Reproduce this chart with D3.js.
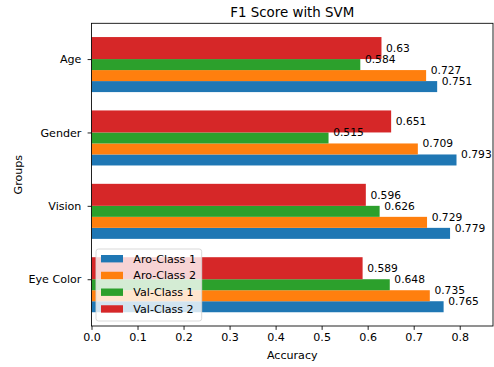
<!DOCTYPE html>
<html>
<head>
<meta charset="utf-8">
<script src="https://cdn.jsdelivr.net/npm/d3@7"></script>
<style>
  html, body { margin: 0; padding: 0; background: #fff; }
  svg { display: block; font-family: "DejaVu Sans", sans-serif; }
</style>
</head>
<body>
<svg id="chart" width="494" height="367"></svg>
<script>
const groups = ["Age", "Gender", "Vision", "Eye Color"];
const seriesNames = ["Aro-Class 1", "Aro-Class 2", "Val-Class 1", "Val-Class 2"];
const aroClass1 = [0.751, 0.793, 0.779, 0.765];
const aroClass2 = [0.727, 0.709, 0.729, 0.735];
const valClass1 = [0.584, 0.515, 0.626, 0.648];
const valClass2 = [0.63, 0.651, 0.596, 0.589];
const xTicks = [0.0, 0.1, 0.2, 0.3, 0.4, 0.5, 0.6, 0.7, 0.8];
const colors = ["#1f77b4", "#ff7f0e", "#2ca02c", "#d62728"];

const series = [aroClass1, aroClass2, valClass1, valClass2];
// bar extents relative to group index (data units), and label offsets
const barSpans = [[0.3, 0.45], [0.15, 0.3], [0.0, 0.15], [-0.3, 0.0]];
const labelOff = [0.3, 0.15, 0.0, -0.15];

const svg = d3.select("#chart");
const L = 91.5, R = 493, T = 23.3, B = 326;
const fs = 11.1;      // tick / legend / axis label font
const vfs = 10.7;     // value label font

const maxV = d3.max(series.flat());
const x = d3.scaleLinear().domain([0, maxV * 1.1]).range([L, R]);
const y = d3.scaleLinear().domain([-0.4875, 3.6375]).range([T, B]);

// bars
series.forEach((vals, s) => {
  svg.append("g").selectAll("rect").data(vals).join("rect")
    .attr("x", x(0))
    .attr("y", (d, i) => y(i + barSpans[s][0]))
    .attr("width", d => x(d) - x(0))
    .attr("height", (d, i) => y(i + barSpans[s][1]) - y(i + barSpans[s][0]))
    .attr("fill", colors[s]);
});
// value labels
series.forEach((vals, s) => {
  svg.append("g").selectAll("text").data(vals).join("text")
    .attr("x", d => x(d + 0.01))
    .attr("y", (d, i) => y(i + labelOff[s]) + vfs * 0.36)
    .attr("font-size", vfs)
    .attr("fill", "#000")
    .text(d => String(d));
});

// axes
const xAxis = d3.axisBottom(x).tickValues(xTicks).tickFormat(d3.format(".1f"))
  .tickSize(3.9).tickPadding(3.2);
const gx = svg.append("g").attr("transform", `translate(0,${B})`).call(xAxis);
const yAxis = d3.axisLeft(y).tickValues(d3.range(groups.length)).tickFormat(i => groups[i])
  .tickSize(3.9).tickPadding(6.2);
const gy = svg.append("g").attr("transform", `translate(${L},0)`).call(yAxis);
[gx, gy].forEach(g => {
  g.select(".domain").remove();
  g.selectAll(".tick line").attr("stroke", "#000").attr("stroke-width", 0.86);
  g.selectAll(".tick text").attr("font-size", fs).attr("fill", "#000")
    .attr("font-family", "DejaVu Sans, sans-serif");
});

// frame
svg.append("rect").attr("x", L).attr("y", T).attr("width", R - L).attr("height", B - T)
  .attr("fill", "none").attr("stroke", "#000").attr("stroke-width", 0.86);

// title & labels
svg.append("text").attr("x", (L + R) / 2).attr("y", 16.5).attr("text-anchor", "middle")
  .attr("font-size", 13.4).attr("fill", "#000").text("F1 Score with SVM");
svg.append("text").attr("x", (L + R) / 2).attr("y", 358.5).attr("text-anchor", "middle")
  .attr("font-size", fs).attr("fill", "#000").text("Accuracy");
svg.append("text").attr("transform", `translate(21.5,${(T + B) / 2}) rotate(-90)`)
  .attr("text-anchor", "middle").attr("font-size", fs).attr("fill", "#000").text("Groups");

// legend
const lg = svg.append("g");
lg.append("rect").attr("x", 96).attr("y", 249).attr("width", 105.7).attr("height", 72)
  .attr("rx", 2.5).attr("fill", "rgba(255,255,255,0.8)").attr("stroke", "#d5d5d5").attr("stroke-width", 0.9);
seriesNames.forEach((name, s) => {
  const cy = 258.7 + s * 16.75;
  lg.append("rect").attr("x", 101).attr("y", cy - 3.7).attr("width", 22).attr("height", 7.4)
    .attr("fill", colors[s]);
  lg.append("text").attr("x", 133.3).attr("y", cy + fs * 0.36).attr("font-size", fs)
    .attr("fill", "#000").text(name);
});
</script>
</body>
</html>
